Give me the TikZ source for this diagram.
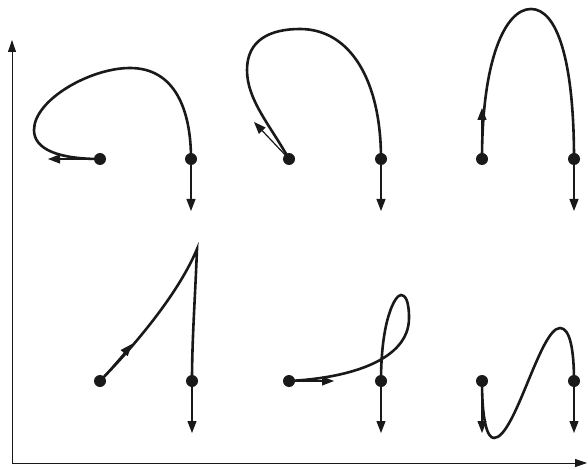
\documentclass[tikz,border=0pt]{standalone}
\usetikzlibrary{arrows.meta}
\tikzset{
  dot/.style={circle,fill=black!90,inner sep=0pt,minimum size=12pt},
  traj/.style={line width=2.6pt,black!90},
  vec/.style={line width=1.2pt,black!90,-{Triangle[length=12pt,width=9pt]}},
  axis/.style={line width=0.9pt,black!90,-{Triangle[length=12pt,width=8pt]}}
}
\begin{document}
\begin{tikzpicture}[x=1pt,y=-1pt]
\useasboundingbox (0,0) rectangle (588,470);
% axes
\coordinate (O) at (12,463);
\coordinate (Y) at (12,40);
\coordinate (X) at (587,463);
\draw[axis] (O) -- (Y);
\draw[axis] (O) -- (X);
% dots
\node[dot] (a1) at (100,159) {};
\node[dot] (b1) at (191,159) {};
\node[dot] (a2) at (289,159) {};
\node[dot] (b2) at (381,159) {};
\node[dot] (a3) at (482,159) {};
\node[dot] (b3) at (574,159) {};
\node[dot] (a4) at (100,381) {};
\node[dot] (b4) at (192,381) {};
\node[dot] (a5) at (289,381) {};
\node[dot] (b5) at (381,381) {};
\node[dot] (a6) at (482,381) {};
\node[dot] (b6) at (574,381) {};
% arrow end points
\coordinate (v1) at (48,159);
\coordinate (w1) at (191,211);
\coordinate (v2) at (254,122);
\coordinate (w2) at (381,211);
\coordinate (v3) at (482,108);
\coordinate (w3) at (574,211);
\coordinate (v4) at (132,344);
\coordinate (w4) at (192,433);
\coordinate (v5) at (334,381);
\coordinate (w5) at (381,433);
\coordinate (v6) at (482,433);
\coordinate (w6) at (574,433);
% trajectories
\draw[traj] (a1.center) .. controls (60,159) and (34,150) .. (34,130)
  .. controls (34,100) and (90,68) .. (130,68)
  .. controls (175,68) and (191,110) .. (b1.center);
\draw[traj] (a2.center) .. controls (270,125) and (247,100) .. (247,70)
  .. controls (247,40) and (270,29) .. (300,29)
  .. controls (350,29) and (381,80) .. (b2.center);
\draw[traj] (a3.center) .. controls (482,60) and (505,9) .. (531,9)
  .. controls (557,9) and (574,60) .. (b3.center);
\draw[traj] (a4.center) .. controls (140,340) and (180,290) .. (197,249)
  .. controls (195,300) and (192,340) .. (b4.center);
\draw[traj] (a5.center) .. controls (350,378) and (409,360) .. (409,318)
  .. controls (409,300) and (405,295) .. (401,295)
  .. controls (395,295) and (381,320) .. (b5.center);
\draw[traj] (a6.center) .. controls (482,420) and (487,438) .. (494,438)
  .. controls (515,438) and (540,328) .. (560,328)
  .. controls (570,328) and (574,350) .. (b6.center);
% velocity arrows
\draw[vec] (a1.center) -- (v1);
\draw[vec] (b1.center) -- (w1);
\draw[vec] (a2.center) -- (v2);
\draw[vec] (b2.center) -- (w2);
\draw[vec] (a3.center) -- (v3);
\draw[vec] (b3.center) -- (w3);
\draw[vec] (a4.center) -- (v4);
\draw[vec] (b4.center) -- (w4);
\draw[vec] (a5.center) -- (v5);
\draw[vec] (b5.center) -- (w5);
\draw[vec] (a6.center) -- (v6);
\draw[vec] (b6.center) -- (w6);
\end{tikzpicture}
\end{document}
